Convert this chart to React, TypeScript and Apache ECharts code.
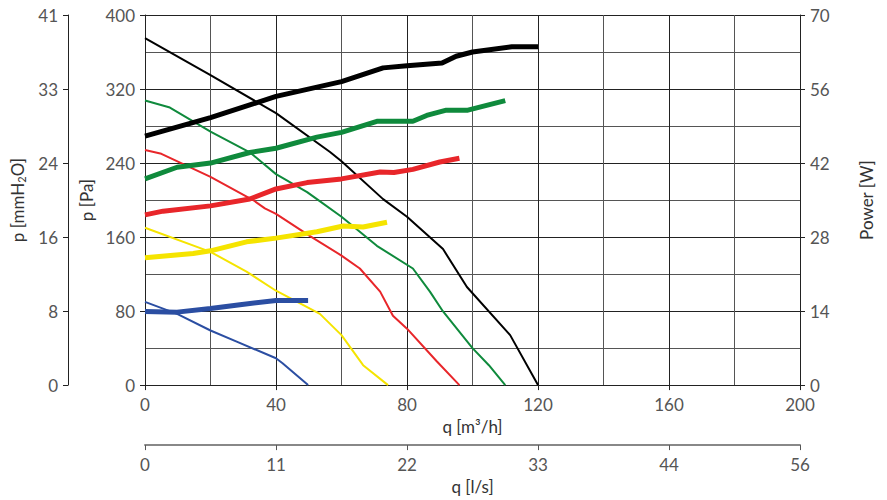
import React, { useEffect, useRef } from "react";
import * as echarts from "echarts";

// Tick labels
const mmH2OTickLabels = ["0", "8", "16", "24", "33", "41"];
const lsTickLabels = ["0", "11", "22", "33", "44", "56"];

// Pressure curves (q [m3/h], p [Pa])
const blackQ = [0, 20, 40, 56.5, 60, 72.7, 80, 91, 98.3, 111.5, 120];
const blackP = [375, 335, 294, 252, 242, 201, 182, 147, 106, 54, 0];
const greenQ = [0, 7.6, 20, 32, 40, 49.5, 52.5, 60, 70.8, 81.8, 87, 91, 100, 105, 110];
const greenP = [307.5, 300, 274, 251.6, 228, 208.6, 201, 182, 150.5, 126, 101, 79.6, 40, 21.5, 0];
const redQ = [0, 5, 20, 33, 36.6, 40, 50.4, 60, 65.6, 71.8, 75.7, 80, 89, 96];
const redP = [254, 250, 225, 200, 191, 185, 161, 140, 126, 101, 75, 61, 26, 0];
const yellowQ = [0, 20, 31, 40, 53.4, 60, 66.6, 74.2];
const yellowP = [170, 144, 122.6, 102, 77, 54, 21.5, 0];
const blueQ = [0, 9.8, 20, 28, 40, 42, 49.8];
const blueP = [90, 77, 59, 47, 29, 23.6, 0];

// Power curves (q [m3/h], Power [W])
const blackPowQ = [0, 20, 40, 60, 72.7, 80, 90.7, 95, 100, 112, 120];
const blackPowW = [47.1, 50.6, 54.6, 57.4, 60, 60.4, 60.9, 62.2, 63, 64, 64];
const greenPowQ = [0, 9.8, 20, 32, 40, 52.5, 60, 70.8, 81.8, 86, 92, 98.6, 110];
const greenPowW = [39, 41.2, 42, 44, 44.8, 46.9, 47.8, 49.9, 49.9, 51, 52, 52, 53.8];
const redPowQ = [0, 5.5, 20, 32, 40, 49.5, 60, 71.8, 76, 81.8, 90, 96];
const redPowW = [32.2, 32.9, 33.9, 35.2, 37.1, 38.3, 39, 40.3, 40.2, 40.8, 42.2, 42.9];
const yellowPowQ = [0, 14.7, 20, 31, 40, 52.5, 60.5, 66.6, 73.9];
const yellowPowW = [24.1, 24.9, 25.4, 27.1, 27.8, 29, 30.1, 29.9, 30.8];
const bluePowQ = [0, 9.8, 20, 29, 40, 49.8];
const bluePowW = [13.9, 13.8, 14.5, 15.2, 16, 16];

const COLORS = {
  black: "#000000",
  green: "#0f8a3c",
  red: "#e8262a",
  yellow: "#f5e400",
  blue: "#2b4ea2",
};

const zip = (a: number[], b: number[]) => a.map((v, i) => [v, b[i]]);

const FONT = "Lato";
const labelStyle = { color: "#555555", fontSize: 17, fontFamily: FONT, fontWeight: "normal" as any };
const nameStyle = { color: "#333333", fontSize: 17, fontFamily: FONT, fontWeight: "normal" as any };

export default function App() {
  const ref = useRef<HTMLDivElement>(null);
  useEffect(() => {
    if (!ref.current) return;
    const chart = echarts.init(ref.current, undefined, { renderer: "svg" });

    const pSeries = (q: number[], p: number[], color: string) => ({
      type: "line",
      xAxisIndex: 0,
      yAxisIndex: 0,
      data: zip(q, p),
      symbol: "none",
      lineStyle: { color, width: 2 },
      z: 3,
    });
    const wSeries = (q: number[], w: number[], color: string) => ({
      type: "line",
      xAxisIndex: 0,
      yAxisIndex: 2,
      data: zip(q, w),
      symbol: "none",
      lineStyle: { color, width: 5 },
      z: 4,
    });

    chart.setOption({
      animation: false,
      backgroundColor: "#fff",
      grid: { left: 145, right: 87, top: 15, bottom: 113, containLabel: false },
      xAxis: [
        {
          type: "value",
          min: 0,
          max: 200,
          interval: 40,
          position: "bottom",
          name: "q [m³/h]",
          nameLocation: "middle",
          nameGap: 24,
          nameTextStyle: nameStyle,
          axisLine: { show: true, onZero: false, lineStyle: { color: "#222", width: 1 } },
          axisTick: { show: true, length: 5, lineStyle: { color: "#222" } },
          axisLabel: { ...labelStyle, margin: 11 },
          splitLine: { show: true, lineStyle: { color: "#222", width: 1 } },
          minorTick: { show: false, splitNumber: 2 },
          minorSplitLine: { show: true, lineStyle: { color: "#555", width: 1 } },
        },
        {
          type: "value",
          min: 0,
          max: 5,
          interval: 1,
          position: "bottom",
          offset: 60,
          name: "q [l/s]",
          nameLocation: "middle",
          nameGap: 21,
          nameTextStyle: nameStyle,
          axisLine: { show: true, onZero: false, lineStyle: { color: "#888", width: 2 } },
          axisTick: { show: true, length: 5, lineStyle: { color: "#555" } },
          axisLabel: {
            ...labelStyle,
            margin: 11,
            formatter: (v: number) => lsTickLabels[Math.round(v)] ?? "",
          },
          splitLine: { show: false },
        },
      ],
      yAxis: [
        {
          type: "value",
          min: 0,
          max: 400,
          interval: 80,
          position: "left",
          name: "p [Pa]",
          nameLocation: "middle",
          nameGap: 50,
          nameTextStyle: nameStyle,
          axisLine: { show: true, onZero: false, lineStyle: { color: "#222", width: 1 } },
          axisTick: { show: true, length: 5, lineStyle: { color: "#222" } },
          axisLabel: { ...labelStyle, margin: 10 },
          splitLine: { show: true, lineStyle: { color: "#222", width: 1 } },
          minorTick: { show: false, splitNumber: 2 },
          minorSplitLine: { show: true, lineStyle: { color: "#555", width: 1 } },
        },
        {
          type: "value",
          min: 0,
          max: 5,
          interval: 1,
          position: "left",
          offset: 77,
          name: "p [mmH{sub|2}O]",
          nameLocation: "middle",
          nameGap: 40,
          nameTextStyle: {
            ...nameStyle,
            rich: {
              sub: { fontSize: 11, fontFamily: FONT, color: "#333333", verticalAlign: "bottom", padding: [8, 0, 0, 0] },
            },
          },
          axisLine: { show: true, onZero: false, lineStyle: { color: "#222", width: 1 } },
          axisTick: { show: true, length: 5, lineStyle: { color: "#222" } },
          axisLabel: {
            ...labelStyle,
            margin: 10,
            formatter: (v: number) => mmH2OTickLabels[Math.round(v)] ?? "",
          },
          splitLine: { show: false },
        },
        {
          type: "value",
          min: 0,
          max: 70,
          interval: 14,
          position: "right",
          name: "Power [W]",
          nameLocation: "middle",
          nameGap: 58,
          nameTextStyle: nameStyle,
          axisLine: { show: true, onZero: false, lineStyle: { color: "#222", width: 1 } },
          axisTick: { show: true, length: 5, lineStyle: { color: "#222" } },
          axisLabel: { ...labelStyle, margin: 10 },
          splitLine: { show: false },
        },
      ],
      series: [
        pSeries(blackQ, blackP, COLORS.black),
        pSeries(greenQ, greenP, COLORS.green),
        pSeries(redQ, redP, COLORS.red),
        pSeries(yellowQ, yellowP, COLORS.yellow),
        pSeries(blueQ, blueP, COLORS.blue),
        wSeries(blackPowQ, blackPowW, COLORS.black),
        wSeries(greenPowQ, greenPowW, COLORS.green),
        wSeries(redPowQ, redPowW, COLORS.red),
        wSeries(yellowPowQ, yellowPowW, COLORS.yellow),
        wSeries(bluePowQ, bluePowW, COLORS.blue),
      ],
    });
    return () => chart.dispose();
  }, []);

  return (
    <div
      ref={ref}
      style={{ position: "fixed", left: 0, top: 0, width: 887, height: 500, background: "#fff" }}
    />
  );
}
